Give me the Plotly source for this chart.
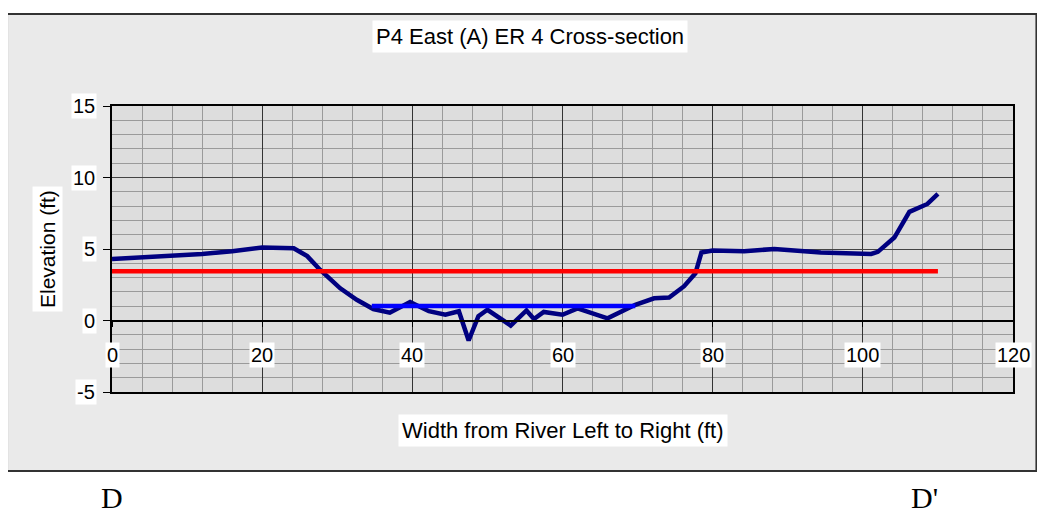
import plotly.graph_objects as go

# bed profile, width (ft) vs elevation (ft)
STATION = [0, 4, 8, 12, 16, 20, 24.2, 26.0, 27.7, 30.4, 32.6, 34.8, 37.0, 39.7,
           42.2, 44.4, 46.2, 47.5, 48.8, 50.0, 53.1, 55.2, 56.2, 57.5, 60.0,
           62.0, 66.0, 69.7, 72.2, 74.2, 76.2, 77.7, 78.5, 80.0, 84.2, 88.2,
           92.2, 94.4, 101.1, 102.0, 104.2, 106.2, 108.6, 110.0]
ELEV = [4.3, 4.4, 4.5, 4.65, 4.85, 5.1, 5.05, 4.5, 3.55, 2.25, 1.45, 0.8, 0.55,
        1.3, 0.65, 0.4, 0.65, -1.4, 0.3, 0.75, -0.35, 0.7, 0.1, 0.6, 0.4, 0.85,
        0.15, 1.1, 1.55, 1.6, 2.4, 3.3, 4.75, 4.9, 4.85, 5.0, 4.85, 4.75, 4.65,
        4.8, 5.8, 7.6, 8.15, 8.85]

# red level line
RED_X = [0, 110]
RED_Y = [3.45, 3.45]

# blue level line
BLUE_X = [34.6, 69.7]
BLUE_Y = [1.02, 1.02]

X_TICKS = [0, 20, 40, 60, 80, 100, 120]
Y_TICKS = [-5, 0, 5, 10, 15]

TITLE = "P4 East (A) ER 4 Cross-section"
X_TITLE = "Width from River Left to Right (ft)"
Y_TITLE = "Elevation (ft)"

SANS = "Liberation Sans, Arial, sans-serif"
SERIF = "Liberation Serif, Times New Roman, serif"

fig = go.Figure()
fig.add_trace(go.Scatter(x=STATION, y=ELEV, mode="lines",
                         line=dict(color="#000080", width=4.5), hoverinfo="x+y"))
fig.add_trace(go.Scatter(x=BLUE_X, y=BLUE_Y, mode="lines",
                         line=dict(color="#0000FF", width=4.5)))
fig.add_trace(go.Scatter(x=RED_X, y=RED_Y, mode="lines", xaxis="x2",
                         line=dict(color="#FF0000", width=4.5)))

# chart frame and plot area fill
shapes = [
    dict(type="rect", xref="paper", yref="paper", x0=-0.1165, x1=1.026, y0=-0.276, y1=1.322,
         fillcolor="#EAEAEA", line=dict(color="#333333", width=2), layer="below"),
    dict(type="rect", xref="paper", yref="paper", x0=0, x1=1, y0=0, y1=1,
         fillcolor="#DDDDDD", line=dict(width=0), layer="below"),
]

annotations = []
for t in X_TICKS:
    annotations.append(dict(x=t, y=0, xref="x", yref="y", text=str(t), showarrow=False,
                            xanchor="center", yanchor="middle",
                            yshift=-34, bgcolor="white", borderpad=1,
                            font=dict(family=SANS, size=20, color="black")))
for t in Y_TICKS:
    annotations.append(dict(x=0, y=t, xref="paper", yref="y", text=str(t), showarrow=False,
                            xanchor="right", yanchor="middle", xshift=-15,
                            bgcolor="white", borderpad=1,
                            font=dict(family=SANS, size=20, color="black")))
annotations += [
    dict(x=0.4639, y=1.243, xref="paper", yref="paper", text=TITLE, showarrow=False,
         xanchor="center", yanchor="middle",
         bgcolor="white", borderpad=3, font=dict(family=SANS, size=22, color="black")),
    dict(x=0.5, y=-0.136, xref="paper", yref="paper", text=X_TITLE, showarrow=False,
         xanchor="center", yanchor="middle",
         bgcolor="white", borderpad=3, font=dict(family=SANS, size=22, color="black")),
    dict(x=-0.0721, y=0.5, xref="paper", yref="paper", text=Y_TITLE, showarrow=False,
         xanchor="center", yanchor="middle",
         textangle=-90, bgcolor="white", borderpad=3,
         font=dict(family=SANS, size=21, color="black")),
    dict(x=0.0, y=-0.368, xref="paper", yref="paper", text="D", showarrow=False,
         xanchor="center", yanchor="middle", borderpad=0,
         font=dict(family=SERIF, size=30, color="black")),
    dict(x=0.902, y=-0.368, xref="paper", yref="paper", text="D'", showarrow=False,
         xanchor="center", yanchor="middle", borderpad=0,
         font=dict(family=SERIF, size=30, color="black")),
]

# page body adds an 8px offset, so the figure is 8px smaller and margins shifted
fig.update_layout(
    width=1037, height=509,
    margin=dict(l=104, r=32, t=98, b=125),
    paper_bgcolor="white",
    plot_bgcolor="rgba(0,0,0,0)",
    showlegend=False,
    shapes=shapes,
    annotations=annotations,
    xaxis=dict(range=[0, 120], tick0=0, dtick=20, showticklabels=False, ticks="",
               showgrid=True, gridcolor="#333333", gridwidth=1, zeroline=False,
               showline=True, linecolor="black", linewidth=2, mirror=True,
               minor=dict(tick0=0, dtick=4, showgrid=True, gridcolor="#9A9A9A", gridwidth=1)),
    xaxis2=dict(range=[0, 120], overlaying="x", anchor="free", position=0.25,
                tick0=0, dtick=20, ticks="outside", ticklen=6, tickwidth=1, tickcolor="black",
                showticklabels=False, showgrid=False, zeroline=False,
                showline=True, linecolor="black", linewidth=1.5),
    yaxis=dict(range=[-5, 15], tick0=0, dtick=5, showticklabels=False,
               ticks="outside", ticklen=7, tickwidth=1, tickcolor="black",
               showgrid=True, gridcolor="#444444", gridwidth=1, zeroline=False,
               showline=True, linecolor="black", linewidth=2, mirror=True,
               minor=dict(tick0=0, dtick=1, showgrid=True, gridcolor="#9A9A9A", gridwidth=1)),
)

fig.write_html("out.html")
